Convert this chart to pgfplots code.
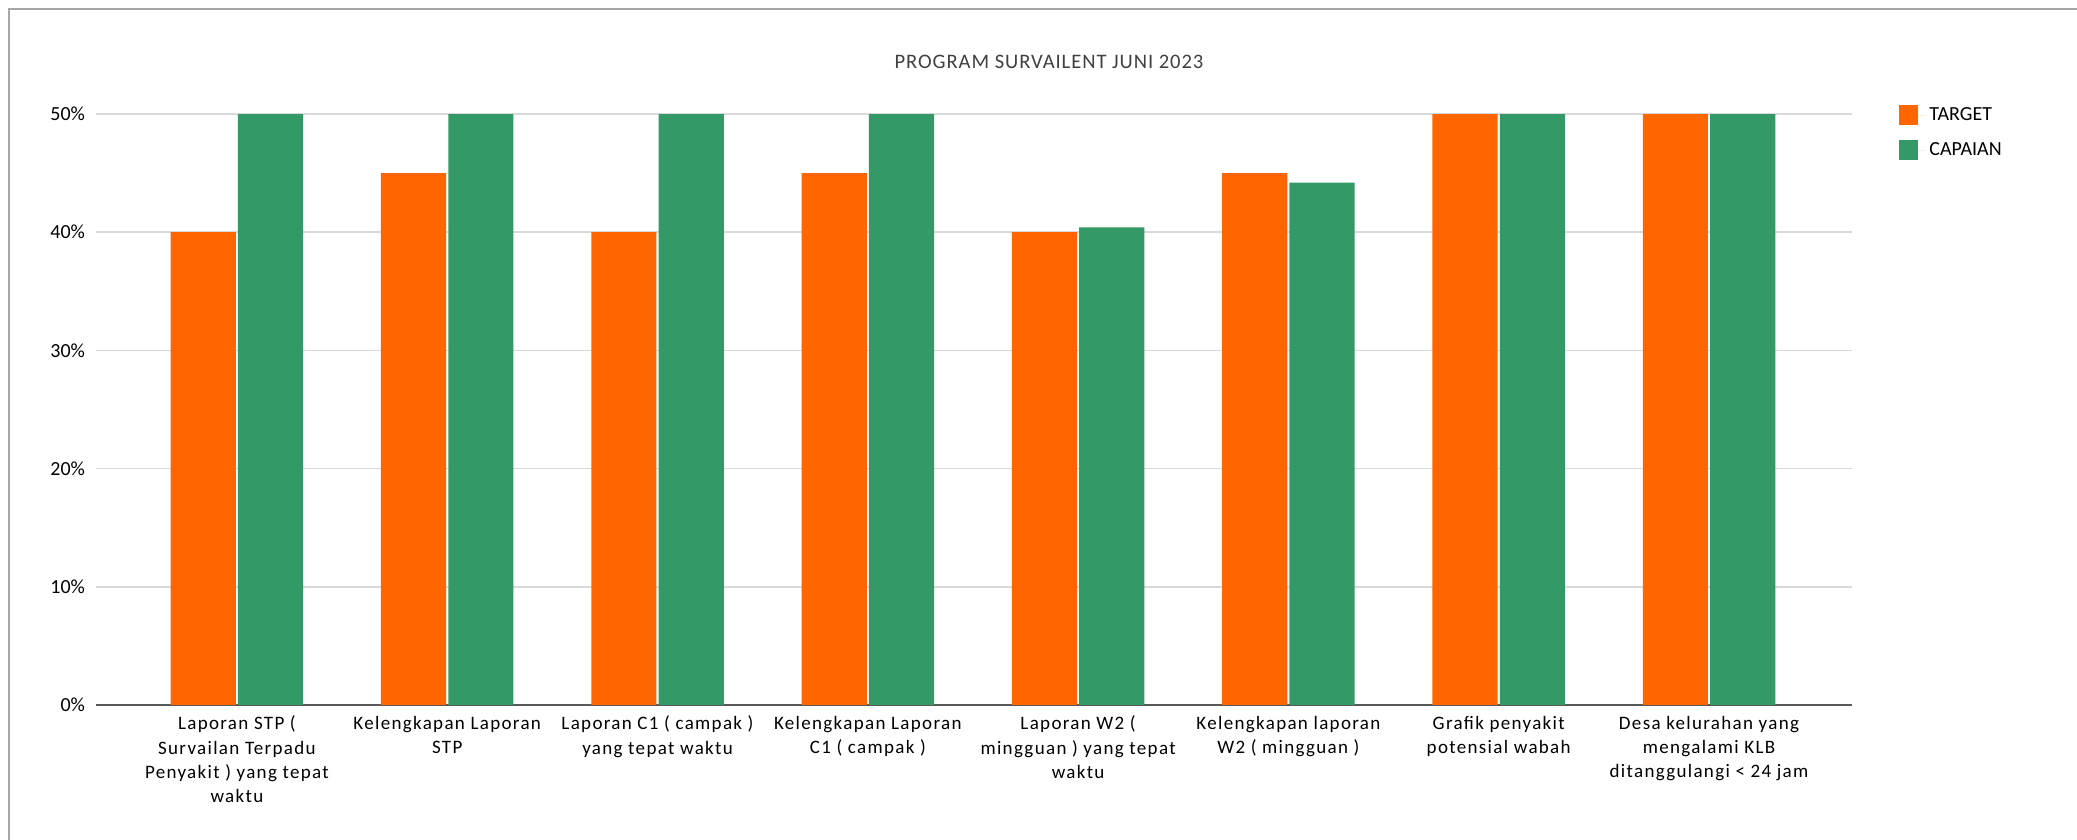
\documentclass[border=0pt]{standalone}
\usepackage{pgfplots}
\pgfplotsset{compat=1.18}
\usepackage{fontspec}
\setmainfont{Carlito}
\newfontfamily\labelfont[LetterSpace=7]{Carlito}
\newfontfamily\titlefont[LetterSpace=4.5]{Carlito}

\definecolor{TargetFill}{HTML}{FF6600}
\definecolor{CapaianFill}{HTML}{339966}
\definecolor{GridGray}{HTML}{D9D9D9}
\definecolor{AxisGray}{HTML}{595959}
\definecolor{FrameGray}{HTML}{A6A6A6}
\definecolor{TitleGray}{HTML}{404040}

\begin{document}
\begin{tikzpicture}
  \useasboundingbox (0,0) rectangle (1038.5pt,420pt);
  \draw[FrameGray, line width=0.6pt] (4.5pt,0) -- (4.5pt,415.5pt) -- (1038.5pt,415.5pt);
  \begin{axis}[
      at={(48pt,67.5pt)}, anchor=south west,
      scale only axis,
      width=878pt, height=295.5pt,
      ybar, bar width=0.31,
      xmin=-0.67, xmax=7.68,
      ymin=0, ymax=50,
      xtick={0,...,7},
      xticklabels={
        {Laporan STP (\\Survailan Terpadu\\Penyakit ) yang tepat\\waktu},
        {Kelengkapan Laporan\\STP},
        {Laporan C1 ( campak )\\yang tepat waktu},
        {Kelengkapan Laporan\\C1 ( campak )},
        {Laporan W2 (\\mingguan ) yang tepat\\waktu},
        {Kelengkapan laporan\\W2 ( mingguan )},
        {Grafik penyakit\\potensial wabah},
        {Desa kelurahan yang\\mengalami KLB\\ditanggulangi < 24 jam}},
      ytick={0,10,20,30,40,50},
      yticklabels={0\%,10\%,20\%,30\%,40\%,50\%},
      ymajorgrids, grid style={GridGray, line width=0.75pt},
      major tick length=0pt,
      axis x line*=bottom, axis y line*=left,
      y axis line style={draw=none},
      x axis line style={AxisGray, line width=1pt},
      tick label style={font=\fontsize{10}{12.2}\selectfont, text=black},
      xticklabel style={align=center, anchor=north, yshift=-2pt,
        font=\labelfont\fontsize{9.5}{12.15}\selectfont},
      yticklabel style={anchor=east, xshift=-2pt},
      title={PROGRAM SURVAILENT JUNI 2023},
      title style={at={(0.5427,1.068)}, anchor=center,
        font=\titlefont\fontsize{10.3}{12}\selectfont, text=TitleGray},
      legend style={at={(1.0268,1.0186)}, anchor=north west, draw=none,
        fill=none, inner sep=0pt, row sep=5.5pt,
        font=\fontsize{10}{12}\selectfont},
      legend image code/.code={
        \path (0pt,0pt) -- (13pt,0pt);
        \fill[#1] (0pt,-5pt) rectangle (9.5pt,5pt);},
      legend cell align=left,
    ]
    \addplot[fill=TargetFill, draw=none, bar shift=-0.16] coordinates {
      (0,40) (1,45) (2,40) (3,45) (4,40) (5,45) (6,50) (7,50)
    };
    \addplot[fill=CapaianFill, draw=none, bar shift=0.16] coordinates {
      (0,50) (1,50) (2,50) (3,50) (4,40.4) (5,44.2) (6,50) (7,50)
    };
    \legend{TARGET,CAPAIAN}
  \end{axis}
\end{tikzpicture}
\end{document}
